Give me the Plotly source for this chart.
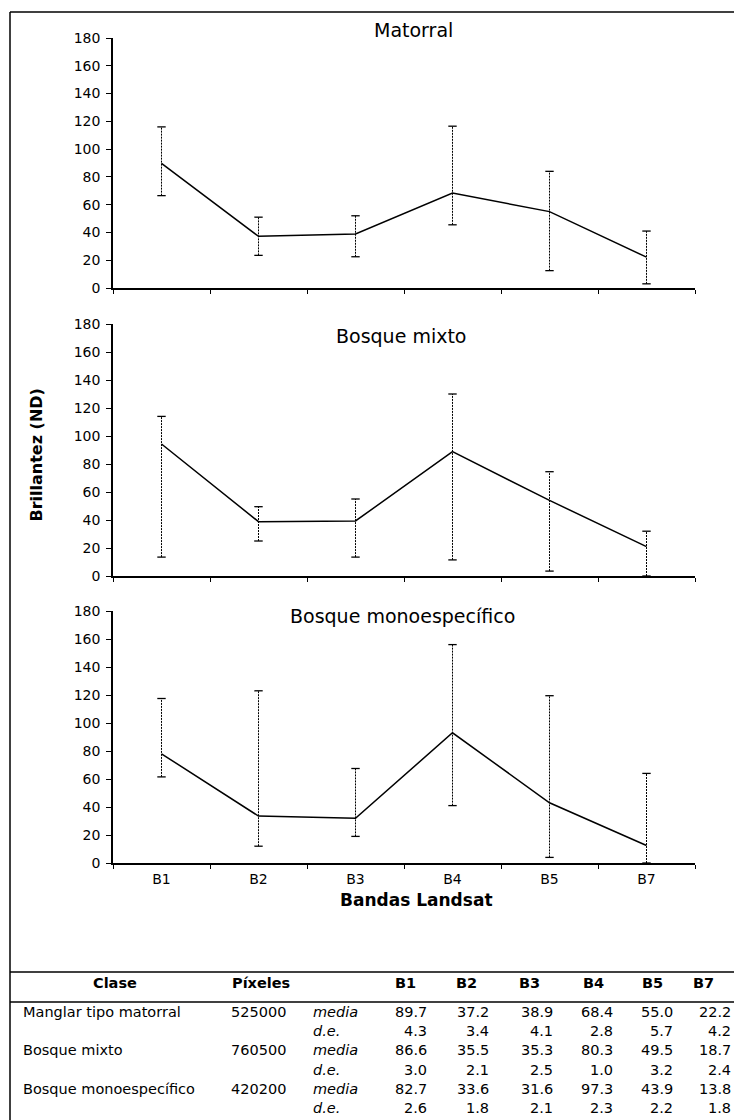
import plotly.graph_objects as go

# ---------------- data ----------------
bands = ["B1", "B2", "B3", "B4", "B5", "B7"]
panel_titles = ["Matorral", "Bosque mixto", "Bosque monoespecífico"]
y_ticks = [0, 20, 40, 60, 80, 100, 120, 140, 160, 180]

matorral_mean = [89.7, 37.2, 38.9, 68.4, 55.0, 22.2]
matorral_hi = [116, 51, 52, 116.5, 84, 41]
matorral_lo = [66.5, 23.5, 22.5, 45.5, 12.5, 3]

mixto_mean = [94.3, 38.8, 39.3, 88.8, 54.0, 21.0]
mixto_hi = [114, 49.5, 55, 130, 74.5, 32]
mixto_lo = [13.5, 25, 13.5, 11.5, 3.5, 0]

mono_mean = [78.0, 33.5, 32.0, 93.0, 43.0, 12.5]
mono_hi = [117.5, 123, 67.5, 156, 119.5, 64]
mono_lo = [61.5, 12, 19, 41, 4, 0]

table_header = ["Clase", "Píxeles", "B1", "B2", "B3", "B4", "B5", "B7"]
clases = ["Manglar tipo matorral", "Bosque mixto", "Bosque monoespecífico"]
pixeles = ["525000", "760500", "420200"]
stat_labels = ["media", "d.e."]
table_media = [
    [89.7, 37.2, 38.9, 68.4, 55.0, 22.2],
    [86.6, 35.5, 35.3, 80.3, 49.5, 18.7],
    [82.7, 33.6, 31.6, 97.3, 43.9, 13.8],
]
table_de = [
    [4.3, 3.4, 4.1, 2.8, 5.7, 4.2],
    [3.0, 2.1, 2.5, 1.0, 3.2, 2.4],
    [2.6, 1.8, 2.1, 2.3, 2.2, 1.8],
]

# ---------------- layout helpers ----------------
W, H = 734, 1120
FONT = "DejaVu Sans"


def px_x(p):
    return p / W


def px_y(p):
    return 1 - p / H


panel_px = [(38, 288), (324, 576), (611, 863)]
x_left, x_right = 113, 695
title_pos = [(413, 30), (401, 335.7), (402, 615.7)]

series = [
    (matorral_mean, matorral_hi, matorral_lo),
    (mixto_mean, mixto_hi, mixto_lo),
    (mono_mean, mono_hi, mono_lo),
]

fig = go.Figure()
layout = {}
annotations = []

for i, (mean, hi, lo) in enumerate(series):
    n = i + 1
    xa = "x" if n == 1 else f"x{n}"
    ya = "y" if n == 1 else f"y{n}"
    # dotted error bars
    ex, ey = [], []
    for b, h, l in zip(bands, hi, lo):
        ex += [b, b, None]
        ey += [l, h, None]
    fig.add_trace(go.Scatter(
        x=ex, y=ey, mode="lines", xaxis=xa, yaxis=ya,
        line=dict(color="black", width=1, dash="2px,1px"),
        hoverinfo="skip", showlegend=False))
    # caps
    fig.add_trace(go.Scatter(
        x=bands + bands, y=lo + hi, mode="markers", xaxis=xa, yaxis=ya,
        marker=dict(symbol="line-ew", size=6, color="black",
                    line=dict(color="black", width=1.3)),
        hoverinfo="skip", showlegend=False))
    # mean line
    fig.add_trace(go.Scatter(
        x=bands, y=mean, mode="lines", xaxis=xa, yaxis=ya,
        line=dict(color="black", width=1.5),
        showlegend=False))

    top, bot = panel_px[i]
    dom_y = [px_y(bot), px_y(top)]
    dom_x = [px_x(x_left), px_x(x_right)]
    xk = "xaxis" if n == 1 else f"xaxis{n}"
    yk = "yaxis" if n == 1 else f"yaxis{n}"
    layout[xk] = dict(
        domain=dom_x, anchor=ya, type="category", categoryorder="array",
        categoryarray=bands, range=[-0.5, 5.5], tickson="boundaries",
        ticks="outside", ticklen=4, tickwidth=1.2, tickcolor="black",
        showline=True, linecolor="black", linewidth=1.5,
        showgrid=False, zeroline=False, showticklabels=(n == 3),
        tickfont=dict(family=FONT, size=14, color="black"),
        ticklabelstandoff=2, automargin=False, fixedrange=True)
    layout[yk] = dict(
        domain=dom_y, anchor=xa, range=[0, 180], tickmode="array",
        tickvals=y_ticks, ticktext=[str(v) for v in y_ticks],
        ticks="outside", ticklen=5, tickwidth=1.2, tickcolor="black",
        showline=True, linecolor="black", linewidth=1.5,
        showgrid=False, zeroline=False,
        tickfont=dict(family=FONT, size=14, color="black"),
        ticklabelstandoff=3, automargin=False, fixedrange=True)
    # overlay axes for the inner half of the crossing ticks
    layout[f"xaxis{n + 3}"] = dict(
        overlaying=xa, anchor=ya, range=[-0.5, 5.5], tickmode="linear",
        tick0=-0.5, dtick=1, ticks="inside", ticklen=3, tickwidth=1.2,
        tickcolor="black", showticklabels=False, showline=False,
        showgrid=False, zeroline=False, automargin=False, fixedrange=True)
    layout[f"yaxis{n + 3}"] = dict(
        overlaying=ya, anchor=xa, range=[0, 180], tickmode="linear",
        tick0=0, dtick=20, ticks="inside", ticklen=4, tickwidth=1.2,
        tickcolor="black", showticklabels=False, showline=False,
        showgrid=False, zeroline=False, automargin=False, fixedrange=True)

    tx, ty = title_pos[i]
    annotations.append(dict(
        text=panel_titles[i], x=px_x(tx), y=px_y(ty), xref="paper", yref="paper",
        xanchor="center", yanchor="middle", showarrow=False,
        font=dict(family=FONT, size=19, color="black")))

# axis titles
annotations.append(dict(
    text="Brillantez (ND)", x=px_x(36), y=px_y(455.5), xref="paper", yref="paper",
    xanchor="center", yanchor="middle", textangle=-90, showarrow=False,
    font=dict(family=FONT, size=16, color="black", weight="bold")))
annotations.append(dict(
    text="Bandas Landsat", x=px_x(416), y=px_y(900), xref="paper", yref="paper",
    xanchor="center", yanchor="middle", showarrow=False,
    font=dict(family=FONT, size=17, color="black", weight="bold")))

# ---------------- table ----------------
TFS = 14.5
header_y = 983
header_x = [114.5, 261, 406, 466.5, 529, 593, 652.7, 703]
for txt, hx in zip(table_header, header_x):
    annotations.append(dict(
        text=txt, x=px_x(hx), y=px_y(header_y), xref="paper", yref="paper",
        xanchor="center", yanchor="middle", showarrow=False,
        font=dict(family=FONT, size=TFS, color="black", weight="bold")))

row_y0, row_dy = 1012, 19.2
col_right = [429.5, 490.5, 555, 615, 675, 733]
for r, clase in enumerate(clases):
    y_media = row_y0 + (2 * r) * row_dy
    y_de = row_y0 + (2 * r + 1) * row_dy
    annotations.append(dict(
        text=clase, x=px_x(21), y=px_y(y_media), xref="paper", yref="paper",
        xanchor="left", yanchor="middle", showarrow=False,
        font=dict(family=FONT, size=TFS, color="black")))
    annotations.append(dict(
        text=pixeles[r], x=px_x(258), y=px_y(y_media), xref="paper", yref="paper",
        xanchor="center", yanchor="middle", showarrow=False,
        font=dict(family=FONT, size=TFS, color="black")))
    for lab, yy in zip(stat_labels, [y_media, y_de]):
        annotations.append(dict(
            text=lab, x=px_x(311), y=px_y(yy), xref="paper", yref="paper",
            xanchor="left", yanchor="middle", showarrow=False,
            font=dict(family=FONT, size=TFS, color="black", style="italic")))
    for c in range(len(bands)):
        for vals, yy in [(table_media, y_media), (table_de, y_de)]:
            annotations.append(dict(
                text=f"{vals[r][c]:.1f}", x=px_x(col_right[c]), y=px_y(yy),
                xref="paper", yref="paper", xanchor="right", yanchor="middle",
                showarrow=False,
                font=dict(family=FONT, size=TFS, color="black")))

shapes = [
    # outer frame (top and left edges)
    dict(type="line", xref="paper", yref="paper", x0=px_x(10), x1=1.01,
         y0=px_y(12), y1=px_y(12), line=dict(color="black", width=1.5)),
    dict(type="line", xref="paper", yref="paper", x0=px_x(10), x1=px_x(10),
         y0=px_y(12), y1=-0.01, line=dict(color="black", width=1.5)),
    # table rules
    dict(type="line", xref="paper", yref="paper", x0=px_x(10), x1=1.01,
         y0=px_y(972), y1=px_y(972), line=dict(color="black", width=1.5)),
    dict(type="line", xref="paper", yref="paper", x0=px_x(10), x1=1.01,
         y0=px_y(1002), y1=px_y(1002), line=dict(color="black", width=1.5)),
]

fig.update_layout(
    width=W, height=H,
    margin=dict(l=0, r=0, t=0, b=0, pad=0, autoexpand=False),
    paper_bgcolor="white", plot_bgcolor="white",
    showlegend=False,
    annotations=annotations,
    shapes=shapes,
    font=dict(family=FONT, color="black"),
    **layout,
)

fig.write_html(
    "out.html",
    config={"displayModeBar": False},
    post_script="document.body.style.margin='0';document.body.style.overflow='hidden';",
)
